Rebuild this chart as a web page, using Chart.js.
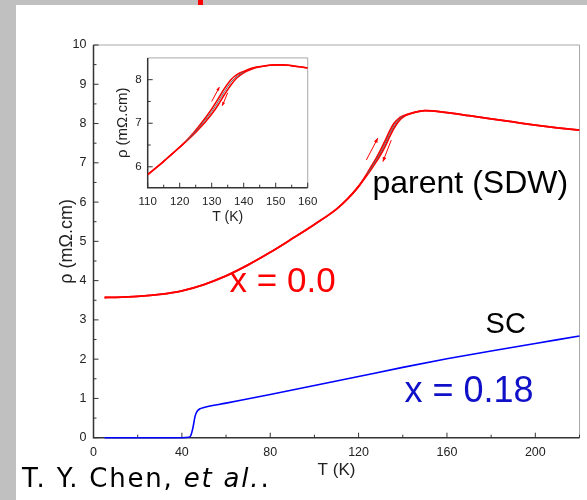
<!DOCTYPE html>
<html lang="en">
<head>
<meta charset="UTF-8">
<title>Resistivity vs temperature</title>
<script src="https://cdn.jsdelivr.net/npm/chart.js@4"></script>
<style>
  body {
    margin: 0;
    width: 587px;
    height: 500px;
    background: #c0c0c0;
    position: relative;
    overflow: hidden;
    font-family: Arial, "Liberation Sans", sans-serif;
  }
  /* white slide area */
  #sheet { position: absolute; left: 16px; top: 5px; right: 0; bottom: 0; background: #fff; }
  #mark { position: absolute; left: 198px; top: 0; width: 5px; height: 5px; background: #ff0000; }
  #mainChart { position: absolute; left: 0; top: 0; }
  #insetChart { position: absolute; left: 100px; top: 45px; }
  #cite {
    position: absolute;
    left: 22px;
    top: 465px;
    font-family: "DejaVu Sans", "Liberation Sans", sans-serif;
    font-size: 26px;
    line-height: 26px;
    letter-spacing: 1.8px;
    color: #000;
    white-space: nowrap;
  }
</style>
</head>
<body>
<div id="sheet"></div>
<div id="mark"></div>
<canvas id="mainChart" width="587" height="500"></canvas>
<canvas id="insetChart" width="225" height="185"></canvas>
<div id="cite">T. Y. Chen, <i>et al.</i>.</div>

<script>
// ---- main panel: x = 0.0 (parent, two sweeps) ----
const parentT    = [5, 10, 20, 30, 40, 50, 60, 70, 80, 90, 100, 110, 115, 120, 124, 126, 128, 130, 132, 134, 136, 138, 140, 145, 150, 160, 170, 180, 190, 200, 210, 220];
const parentCool = [3.57, 3.575, 3.60, 3.65, 3.74, 3.90, 4.12, 4.40, 4.72, 5.07, 5.43, 5.82, 6.08, 6.40, 6.70, 6.86, 7.03, 7.21, 7.42, 7.66, 7.88, 8.05, 8.16, 8.28, 8.33, 8.28, 8.20, 8.12, 8.04, 7.96, 7.89, 7.83];
const parentWarm = [3.57, 3.575, 3.60, 3.65, 3.74, 3.90, 4.12, 4.40, 4.72, 5.07, 5.43, 5.82, 6.08, 6.40, 6.74, 6.93, 7.12, 7.33, 7.56, 7.80, 8.00, 8.12, 8.19, 8.28, 8.33, 8.28, 8.20, 8.12, 8.04, 7.96, 7.89, 7.83];
// thin grey trace seen between the two sweeps
const traceT   = [124, 126, 128, 130, 132, 134, 136, 138, 140];
const traceRho = [6.72, 6.90, 7.08, 7.27, 7.49, 7.73, 7.94, 8.09, 8.18];

// ---- main panel: x = 0.18 (SC) ----
const scT   = [5, 20, 40, 43, 44, 45, 46, 47, 48, 50, 60, 80, 100, 120, 140, 160, 180, 200, 220];
const scRho = [0, 0, 0, 0.01, 0.05, 0.25, 0.55, 0.68, 0.73, 0.77, 0.88, 1.10, 1.33, 1.56, 1.79, 2.01, 2.21, 2.40, 2.59];

// ---- inset: zoom on the SDW transition ----
const insetT    = [110, 112, 114, 116, 118, 120, 122, 124, 126, 128, 130, 132, 134, 136, 138, 140, 142, 144, 146, 148, 150, 152, 154, 156, 158, 160];
const insetCool = [5.82, 5.94, 6.06, 6.19, 6.32, 6.45, 6.58, 6.72, 6.87, 7.03, 7.21, 7.42, 7.66, 7.88, 8.05, 8.16, 8.23, 8.28, 8.31, 8.33, 8.34, 8.34, 8.33, 8.31, 8.29, 8.27];
const insetWarm = [5.82, 5.94, 6.06, 6.19, 6.32, 6.45, 6.59, 6.75, 6.93, 7.12, 7.33, 7.56, 7.80, 8.00, 8.12, 8.19, 8.25, 8.29, 8.31, 8.33, 8.34, 8.34, 8.33, 8.31, 8.29, 8.27];
const insetTraceT   = [122, 124, 126, 128, 130, 132, 134, 136, 138, 140];
const insetTraceRho = [6.585, 6.735, 6.90, 7.075, 7.27, 7.49, 7.73, 7.94, 8.085, 8.175];

// ticks
const mainXTicks  = [0, 40, 80, 120, 160, 200];
const mainXMinor  = [20, 60, 100, 140, 180, 220];
const mainYTicks  = [0, 1, 2, 3, 4, 5, 6, 7, 8, 9, 10];
const mainYMinor  = [0.5, 1.5, 2.5, 3.5, 4.5, 5.5, 6.5, 7.5, 8.5, 9.5];
const insetXTicks = [110, 120, 130, 140, 150, 160];
const insetXMinor = [115, 125, 135, 145, 155];
const insetYTicks = [6, 7, 8];
const insetYMinor = [6.5, 7.5];

const FONT = 'Arial, "Liberation Sans", sans-serif';

function pairs(xs, ys) {
    return xs.map((x, i) => ({ x: x, y: ys[i] }));
}

// draws the box, inward ticks, sweep arrows and the text notes
function makeFrame(cfg) {
    return {
        id: 'frame',
        beforeDatasetsDraw(chart) {
            const { ctx, chartArea: a, scales: { x, y } } = chart;
            ctx.save();
            ctx.strokeStyle = '#a8a8a8';
            ctx.lineWidth = 1;
            ctx.beginPath();
            ctx.moveTo(a.left, a.top);
            ctx.lineTo(a.right, a.top);
            ctx.lineTo(a.right, a.bottom);
            ctx.stroke();

            ctx.strokeStyle = '#333';
            ctx.lineWidth = 1.5;
            ctx.beginPath();
            ctx.moveTo(a.left, a.top);
            ctx.lineTo(a.left, a.bottom);
            ctx.lineTo(a.right, a.bottom);
            ctx.stroke();

            ctx.lineWidth = 1;
            ctx.beginPath();
            const xt = (vals, len) => vals.forEach(v => {
                const px = x.getPixelForValue(v);
                ctx.moveTo(px, a.bottom);
                ctx.lineTo(px, a.bottom - len);
            });
            const yt = (vals, len) => vals.forEach(v => {
                const py = y.getPixelForValue(v);
                ctx.moveTo(a.left, py);
                ctx.lineTo(a.left + len, py);
            });
            xt(cfg.xMajor, 5); xt(cfg.xMinor, 3);
            yt(cfg.yMajor, 5); yt(cfg.yMinor, 3);
            ctx.stroke();
            ctx.restore();
        },
        afterDatasetsDraw(chart) {
            const { ctx, scales: { x, y } } = chart;
            ctx.save();
            (cfg.arrows || []).forEach(ar => {
                const x0 = x.getPixelForValue(ar.from[0]), y0 = y.getPixelForValue(ar.from[1]);
                const x1 = x.getPixelForValue(ar.to[0]), y1 = y.getPixelForValue(ar.to[1]);
                const ang = Math.atan2(y1 - y0, x1 - x0);
                ctx.strokeStyle = '#ff0000';
                ctx.fillStyle = '#ff0000';
                ctx.lineWidth = 1;
                ctx.beginPath();
                ctx.moveTo(x0, y0);
                ctx.lineTo(x1, y1);
                ctx.stroke();
                const h = ar.head || 5;
                ctx.beginPath();
                ctx.moveTo(x1, y1);
                ctx.lineTo(x1 - h * Math.cos(ang - 0.4), y1 - h * Math.sin(ang - 0.4));
                ctx.lineTo(x1 - h * Math.cos(ang + 0.4), y1 - h * Math.sin(ang + 0.4));
                ctx.closePath();
                ctx.fill();
            });
            (cfg.notes || []).forEach(n => {
                ctx.font = n.size + 'px ' + FONT;
                ctx.fillStyle = n.color;
                ctx.textAlign = 'left';
                ctx.textBaseline = 'alphabetic';
                ctx.fillText(n.text, x.getPixelForValue(n.at[0]), y.getPixelForValue(n.at[1]));
            });
            ctx.restore();
        }
    };
}

function axis(min, max, major, fit, tickFont, pad, title, titleFont, titlePad) {
    return {
        type: 'linear',
        min: min,
        max: max,
        afterBuildTicks: s => { s.ticks = major.map(v => ({ value: v })); },
        afterFit: fit,
        grid: { display: false, drawTicks: false },
        border: { display: false },
        ticks: { font: { family: FONT, size: tickFont }, color: '#222', padding: pad, maxRotation: 0, autoSkip: false },
        title: { display: true, text: title, color: '#222', font: { family: FONT, size: titleFont }, padding: titlePad }
    };
}

// main chart
new Chart(document.getElementById('mainChart'), {
    type: 'line',
    data: {
        datasets: [
            { label: 'trace', data: pairs(traceT, traceRho), borderColor: '#666', borderWidth: 1 },
            { label: 'x = 0.0 cooling', data: pairs(parentT, parentCool), borderColor: '#ff0000', borderWidth: 1.8 },
            { label: 'x = 0.0 warming', data: pairs(parentT, parentWarm), borderColor: '#ff0000', borderWidth: 1.8 },
            { label: 'x = 0.18', data: pairs(scT, scRho), borderColor: '#0000ff', borderWidth: 1.6, clip: 4 }
        ]
    },
    options: {
        responsive: false,
        animation: false,
        layout: { padding: { left: 0, top: 45, right: 7.5, bottom: 0 } },
        elements: { point: { radius: 0 }, line: { cubicInterpolationMode: 'monotone', fill: false } },
        plugins: { legend: { display: false }, tooltip: { enabled: false } },
        scales: {
            x: axis(0, 220, mainXTicks, s => { s.height = 62.3; }, 12.5, 7.5, 'T (K)', 17, { top: 0, bottom: 19.8 }),
            y: axis(0, 10, mainYTicks, s => { s.width = 93.5; }, 12.5, 7, 'ρ (mΩ.cm)', 18, { top: 56, bottom: 0 })
        }
    },
    plugins: [makeFrame({
        xMajor: mainXTicks, xMinor: mainXMinor, yMajor: mainYTicks, yMinor: mainYMinor,
        arrows: [
            { from: [123.5, 7.07], to: [128.7, 7.63], head: 5 },
            { from: [134.8, 7.58], to: [131.0, 7.03], head: 5 }
        ],
        notes: [
            { text: 'parent (SDW)', at: [126.3, 6.22], size: 32, color: '#000' },
            { text: 'x = 0.0', at: [61.6, 3.72], size: 35, color: '#ff0000' },
            { text: 'SC', at: [177.5, 2.66], size: 29, color: '#000' },
            { text: 'x = 0.18', at: [140.8, 0.92], size: 36, color: '#1010c8' }
        ]
    })]
});

// inset chart
new Chart(document.getElementById('insetChart'), {
    type: 'line',
    data: {
        datasets: [
            { label: 'trace', data: pairs(insetTraceT, insetTraceRho), borderColor: '#666', borderWidth: 1 },
            { label: 'cooling', data: pairs(insetT, insetCool), borderColor: '#ff0000', borderWidth: 1.6 },
            { label: 'warming', data: pairs(insetT, insetWarm), borderColor: '#ff0000', borderWidth: 1.6 }
        ]
    },
    options: {
        responsive: false,
        animation: false,
        layout: { padding: { left: 0, top: 7.3, right: 8.3, bottom: 0 } },
        elements: { point: { radius: 0 }, line: { cubicInterpolationMode: 'monotone', fill: false } },
        plugins: { legend: { display: false }, tooltip: { enabled: false } },
        scales: {
            x: axis(110, 160, insetXTicks, s => { s.height = 42.3; }, 11.5, 7.7, 'T (K)', 14, { top: 0, bottom: 4.9 }),
            y: axis(5.52, 8.5, insetYTicks, s => { s.width = 47.7; }, 11.5, 6, 'ρ (mΩ.cm)', 15, { top: 14, bottom: 0 })
        }
    },
    plugins: [makeFrame({
        xMajor: insetXTicks, xMinor: insetXMinor, yMajor: insetYTicks, yMinor: insetYMinor,
        arrows: [
            { from: [130.0, 7.50], to: [132.4, 7.83], head: 4 },
            { from: [135.0, 7.70], to: [133.3, 7.40], head: 4 }
        ]
    })]
});
</script>
</body>
</html>
